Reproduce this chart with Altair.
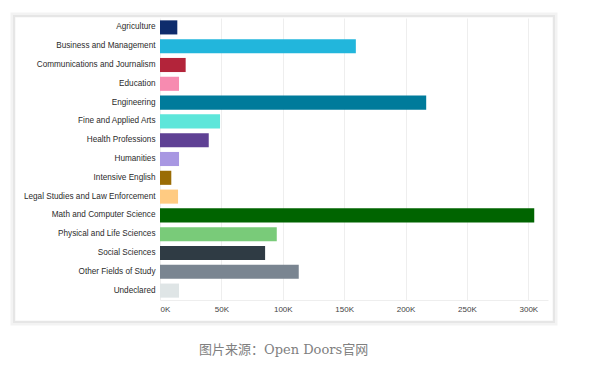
import altair as alt
import pandas as pd

fields = ["Agriculture", "Business and Management", "Communications and Journalism",
          "Education", "Engineering", "Fine and Applied Arts", "Health Professions",
          "Humanities", "Intensive English", "Legal Studies and Law Enforcement",
          "Math and Computer Science", "Physical and Life Sciences", "Social Sciences",
          "Other Fields of Study", "Undeclared"]
students = [14100, 159500, 20900, 15500, 216800, 48900, 39700, 15500, 9200, 14700,
            304800, 95100, 85600, 113000, 15500]
colors = ["#0e2c6c", "#22b6dc", "#b3243a", "#f78bb0", "#007b9b", "#5de6da", "#5f4194",
          "#a897e2", "#9a6c05", "#ffcb82", "#006400", "#79cb79", "#2f3b44", "#7a8591",
          "#dfe5e6"]
tick_values = [0, 50000, 100000, 150000, 200000, 250000, 300000]
caption = "图片来源：Open Doors官网"

df = pd.DataFrame({"field": fields, "students": students})

bars = alt.Chart(df).mark_bar().encode(
    y=alt.Y("field:N", sort=fields, title=None,
            scale=alt.Scale(paddingInner=0.25, paddingOuter=0.125),
            axis=alt.Axis(ticks=False, domain=False, labelFontSize=8.2,
                          labelFont="Liberation Sans", labelColor="#2b2b2b",
                          labelPadding=5, labelLimit=200)),
    x=alt.X("students:Q", title=None,
            scale=alt.Scale(domain=[0, 316000], nice=False),
            axis=alt.Axis(values=tick_values, labelExpr="datum.value/1000 + 'K'",
                          ticks=False, domain=True, domainColor="#eeeeee",
                          gridColor="#eeeeee", labelFontSize=8,
                          labelFont="Liberation Sans", labelColor="#444444",
                          labelPadding=5)),
    color=alt.Color("field:N", scale=alt.Scale(domain=fields, range=colors), legend=None),
)

card_outer = alt.Chart(pd.DataFrame({"a": [0]})).mark_rect(
    fill="transparent", stroke="#f3f3f3", strokeWidth=5
).encode(x=alt.value(-147), x2=alt.value(395), y=alt.value(-3), y2=alt.value(305))

card_inner = alt.Chart(pd.DataFrame({"a": [0]})).mark_rect(
    fill="transparent", stroke="#e6e6e6", strokeWidth=2
).encode(x=alt.value(-146), x2=alt.value(394), y=alt.value(-2), y2=alt.value(304))

cap = alt.Chart(pd.DataFrame({"t": [caption]})).mark_text(
    align="left", baseline="middle", fontSize=13, color="#808080",
    font="DejaVu Serif, Noto Sans CJK SC"
).encode(text="t:N", x=alt.value(39), y=alt.value(332))

chart = alt.layer(card_outer, card_inner, bars, cap).properties(
    width=388, height=282,
    autosize=alt.AutoSizeParams(type="none"),
    padding={"left": 160, "top": 18, "right": 45, "bottom": 71},
    background="white",
).configure_view(stroke=None)

chart.save("out.html", embed_options={"renderer": "svg", "actions": False})
